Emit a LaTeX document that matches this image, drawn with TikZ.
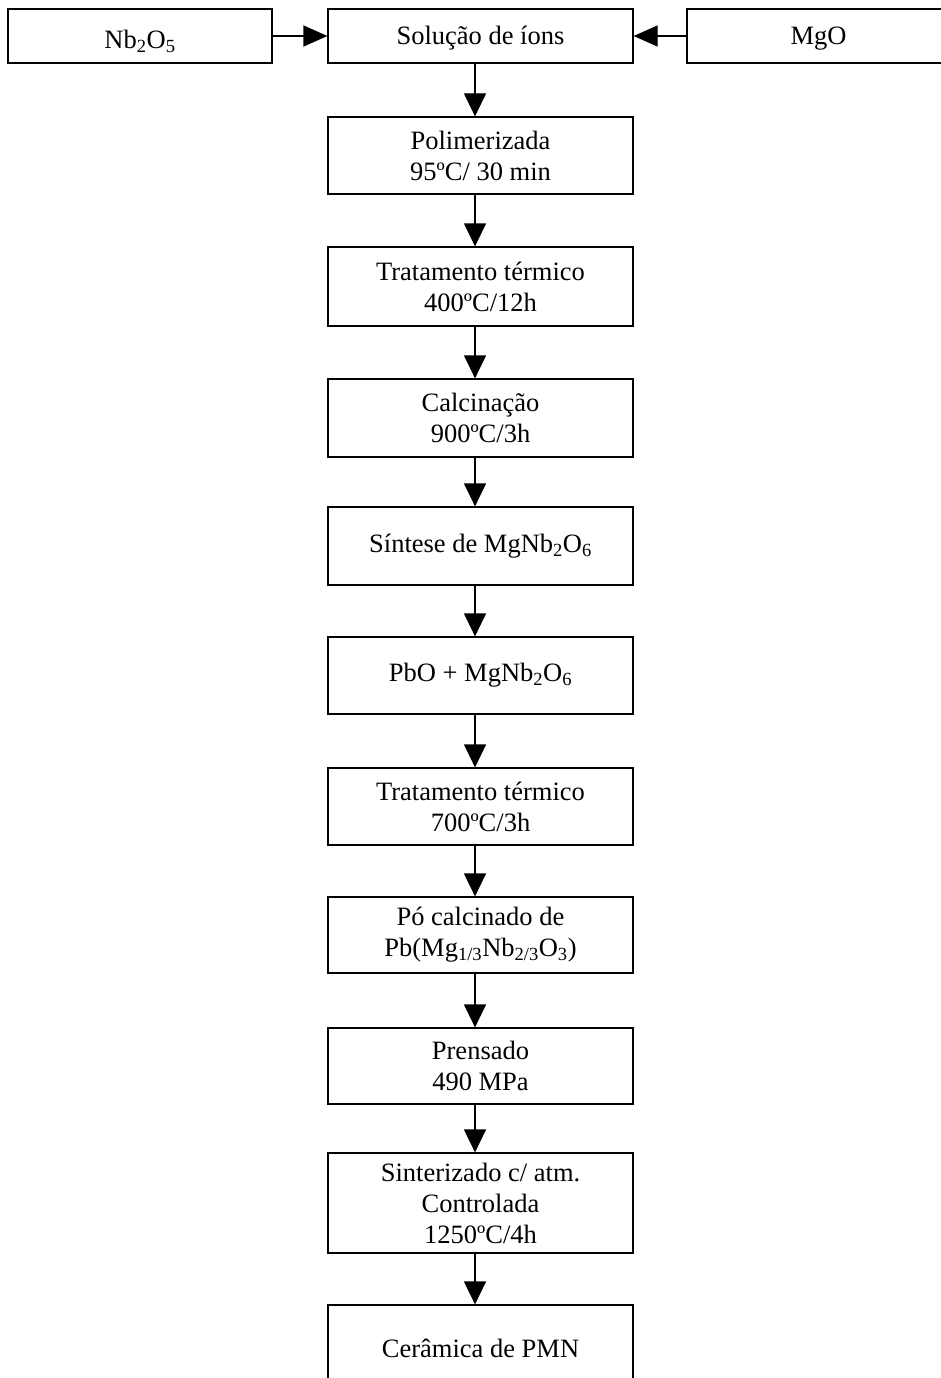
\documentclass[tikz,border=0pt]{standalone}
\usepackage{fontspec}
\setmainfont{Liberation Serif}
\usetikzlibrary{arrows.meta}
\tikzset{
  box/.style={draw, line width=1.2pt, rectangle, inner sep=0pt, align=center,
    font=\fontsize{26.5}{31}\selectfont},
  arr/.style={line width=1.2pt, -{Triangle[length=23pt,width=22pt]}},
  harr/.style={line width=1.2pt, -{Triangle[length=24pt,width=21pt]}}
}
\begin{document}
\begin{tikzpicture}[x=1pt,y=-1pt]
\useasboundingbox (0,0) rectangle (940,1378);
\node[box, minimum width=264pt, minimum height=54pt, text height=25.5pt, text depth=0pt] (nb) at (140,36) {Nb\textsubscript{2}O\textsubscript{5}};
\node[box, minimum width=305pt, minimum height=54pt, text height=17.5pt, text depth=0pt] (sol) at (480.5,36) {Solução de íons};
\node[box, minimum width=263pt, minimum height=54pt, text height=17.5pt, text depth=0pt] (mgo) at (818.5,36) {MgO};
\node[box, minimum width=305pt, minimum height=77pt] (pol) at (480.5,155.5) {Polimerizada\\95ºC/ 30 min};
\node[box, minimum width=305pt, minimum height=79pt] (tt1) at (480.5,286.5) {Tratamento térmico\\400ºC/12h};
\node[box, minimum width=305pt, minimum height=78pt] (cal) at (480.5,418) {Calcinação\\900ºC/3h};
\node[box, minimum width=305pt, minimum height=78pt] (sin) at (480.5,546) {Síntese de MgNb\textsubscript{2}O\textsubscript{6}};
\node[box, minimum width=305pt, minimum height=77pt] (pbo) at (480.5,675.5) {PbO + MgNb\textsubscript{2}O\textsubscript{6}};
\node[box, minimum width=305pt, minimum height=77pt] (tt2) at (480.5,806.5) {Tratamento térmico\\700ºC/3h};
\node[box, minimum width=305pt, minimum height=76pt] (po) at (480.5,935) {Pó calcinado de\\Pb(Mg\textsubscript{1/3}Nb\textsubscript{2/3}O\textsubscript{3})};
\node[box, minimum width=305pt, minimum height=76pt] (pre) at (480.5,1066) {Prensado\\490 MPa};
\node[box, minimum width=305pt, minimum height=100pt] (sint) at (480.5,1203) {Sinterizado c/ atm.\\Controlada\\1250ºC/4h};
\node[box, minimum width=305pt, minimum height=86pt] (cer) at (480.5,1348) {Cerâmica de PMN};
\draw[harr] (nb.east) -- (sol.west);
\draw[harr] (mgo.west) -- (sol.east);
\foreach \a/\b in {sol/pol, pol/tt1, tt1/cal, cal/sin, sin/pbo, pbo/tt2, tt2/po, po/pre, pre/sint, sint/cer}
  \draw[arr] ([xshift=-5.5pt]\a.south) -- ([xshift=-5.5pt]\b.north);
\end{tikzpicture}
\end{document}
